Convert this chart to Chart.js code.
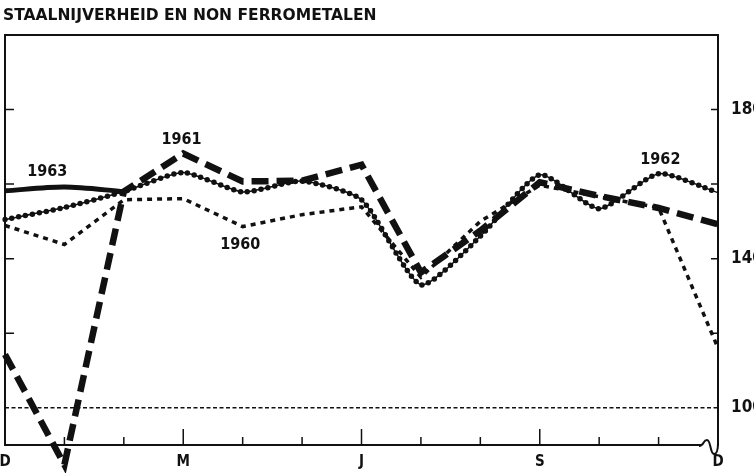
<!DOCTYPE html>
<html lang="nl">
<head>
<meta charset="UTF-8">
<title>Staalnijverheid en non ferrometalen</title>
<script src="https://cdn.jsdelivr.net/npm/chart.js"></script>
<style>
  html, body { margin: 0; padding: 0; background: #fff; }
</style>
</head>
<body>
<canvas id="chart" width="754" height="473"></canvas>
<script>
// months from December to December
const months = ['D', 'J', 'F', 'M', 'A', 'M', 'J', 'J', 'A', 'S', 'O', 'N', 'D'];
const shownMonthIdx = [0, 3, 6, 9, 12];
const yLabels = [100, 140, 180];

// index values
const s1960 = [148.9, 143.8, 155.8, 156.1, 148.6, 151.8, 153.9, 135.0, 150.0, 159.7, 156.6, 153.7, 116.0];
const s1961 = [114.3, 84.7, 158.0, 168.2, 160.7, 160.9, 165.2, 136.3, 147.5, 160.5, 156.8, 153.6, 149.2];
const s1962 = [150.5, 153.7, 158.0, 163.1, 157.9, 160.8, 155.8, 133.0, 146.0, 162.5, 153.4, 162.8, 157.7];
const s1963 = [158.2, 159.2, 158.0];
const baseLine = months.map(() => 100);

const ink = '#111';
const narrow = '"Liberation Sans Narrow", "DejaVu Sans Condensed", sans-serif';

// year labels placed next to their lines (x as month index, y as index value)
const yearTags = [
    { text: '1963', x: 0.71, y: 163.2 },
    { text: '1961', x: 2.97, y: 171.9 },
    { text: '1960', x: 3.96, y: 143.8 },
    { text: '1962', x: 11.03, y: 166.6 }
];

const decor = {
    id: 'decor',
    afterDraw(chart) {
        const ctx = chart.ctx;
        const area = chart.chartArea;
        const xs = chart.scales.x;
        const ys = chart.scales.y;
        ctx.save();
        ctx.strokeStyle = ink;
        ctx.lineCap = 'butt';

        // top frame line
        ctx.lineWidth = 2;
        ctx.beginPath();
        ctx.moveTo(area.left, area.top);
        ctx.lineTo(area.right, area.top);
        ctx.stroke();

        // inward ticks on both value axes
        ctx.lineWidth = 1.5;
        ys.ticks.forEach(t => {
            if (t.value % 20 !== 0 || t.value < 120 || t.value > 180) return;
            const py = ys.getPixelForValue(t.value);
            ctx.beginPath();
            ctx.moveTo(area.left, py);
            ctx.lineTo(area.left + 9, py);
            ctx.moveTo(area.right - 7, py);
            ctx.lineTo(area.right, py);
            ctx.stroke();
        });

        // inward month ticks
        for (let i = 1; i < months.length - 1; i++) {
            const px = xs.getPixelForTick(i);
            const len = i % 3 === 0 ? 16 : 8;
            ctx.beginPath();
            ctx.moveTo(px, area.bottom);
            ctx.lineTo(px, area.bottom - len);
            ctx.stroke();
        }

        // axis break squiggle at bottom right
        ctx.strokeStyle = '#fff';
        ctx.lineWidth = 4;
        ctx.beginPath();
        ctx.moveTo(area.right - 17, area.bottom);
        ctx.lineTo(area.right - 1, area.bottom);
        ctx.stroke();
        ctx.strokeStyle = ink;
        ctx.lineWidth = 2;
        ctx.beginPath();
        ctx.moveTo(area.right - 19, area.bottom + 1);
        ctx.bezierCurveTo(area.right - 14, area.bottom + 1, area.right - 15, area.bottom - 5, area.right - 11, area.bottom - 5);
        ctx.bezierCurveTo(area.right - 7, area.bottom - 5, area.right - 8, area.bottom + 9, area.right - 4, area.bottom + 9);
        ctx.bezierCurveTo(area.right - 1, area.bottom + 9, area.right, area.bottom + 5, area.right, area.bottom - 2);
        ctx.stroke();

        // year labels
        ctx.fillStyle = ink;
        ctx.font = 'bold 16px ' + narrow;
        ctx.textAlign = 'center';
        ctx.textBaseline = 'middle';
        yearTags.forEach(tag => {
            const px = xs.getPixelForDecimal(tag.x / (months.length - 1));
            const py = ys.getPixelForValue(tag.y);
            ctx.fillText(tag.text, px, py);
        });
        ctx.restore();
    }
};

const ctx = document.getElementById('chart').getContext('2d');
new Chart(ctx, {
    type: 'line',
    data: {
        labels: months,
        datasets: [
            {
                label: '1963',
                data: s1963,
                borderColor: ink,
                borderWidth: 5,
                tension: 0.3
            },
            {
                label: '1961',
                data: s1961,
                borderColor: ink,
                borderWidth: 6.5,
                borderDash: [17, 8],
                borderJoinStyle: 'miter',
                clip: false
            },
            {
                label: '1962',
                data: s1962,
                borderColor: ink,
                borderWidth: 5.5,
                borderDash: [0, 7],
                borderCapStyle: 'round',
                borderJoinStyle: 'round',
                tension: 0.2
            },
            {
                label: '1962 line',
                data: s1962,
                borderColor: ink,
                borderWidth: 1.5,
                tension: 0.2
            },
            {
                label: '1960',
                data: s1960,
                borderColor: ink,
                borderWidth: 3.5,
                borderDash: [5, 5]
            },
            {
                label: '100',
                data: baseLine,
                borderColor: ink,
                borderWidth: 1.3,
                borderDash: [4, 2.5]
            }
        ]
    },
    options: {
        responsive: false,
        animation: false,
        devicePixelRatio: 1,
        layout: { padding: { left: 3, right: 0, top: 0, bottom: 0 } },
        elements: {
            point: { radius: 0 },
            line: { fill: false }
        },
        plugins: {
            legend: { display: false },
            tooltip: { enabled: false },
            title: {
                display: true,
                text: 'STAALNIJVERHEID EN NON FERROMETALEN',
                align: 'start',
                color: ink,
                font: { family: '"DejaVu Sans", sans-serif', size: 15.5, weight: 'bold', lineHeight: 1.2 },
                padding: { top: 7, bottom: 9.4 }
            }
        },
        scales: {
            x: {
                type: 'category',
                offset: false,
                grid: { display: false, drawTicks: false },
                border: { display: true, color: ink, width: 2 },
                ticks: {
                    autoSkip: false,
                    maxRotation: 0,
                    padding: 8,
                    color: ink,
                    font: { family: narrow, size: 15, weight: 'bold' },
                    callback: (v, i) => shownMonthIdx.includes(i) ? months[i] : ''
                },
                afterFit(s) {
                    s.height = 28;
                    s.paddingLeft = 0;
                    s.paddingRight = 0;
                }
            },
            y: {
                position: 'right',
                min: 90,
                max: 200,
                grid: { display: false, drawTicks: false },
                border: { display: true, color: ink, width: 2 },
                ticks: {
                    stepSize: 10,
                    padding: 13,
                    color: ink,
                    font: { family: narrow, size: 17, weight: 'bold' },
                    callback: v => yLabels.includes(v) ? String(v) : ''
                },
                afterFit(s) {
                    s.width = 36;
                    s.paddingTop = 0;
                    s.paddingBottom = 0;
                }
            },
            yl: {
                position: 'left',
                min: 90,
                max: 200,
                grid: { display: false, drawTicks: false },
                border: { display: true, color: ink, width: 2 },
                ticks: { display: false },
                afterFit(s) {
                    s.width = 2;
                    s.paddingTop = 0;
                    s.paddingBottom = 0;
                }
            }
        }
    },
    plugins: [decor]
});
</script>
</body>
</html>
